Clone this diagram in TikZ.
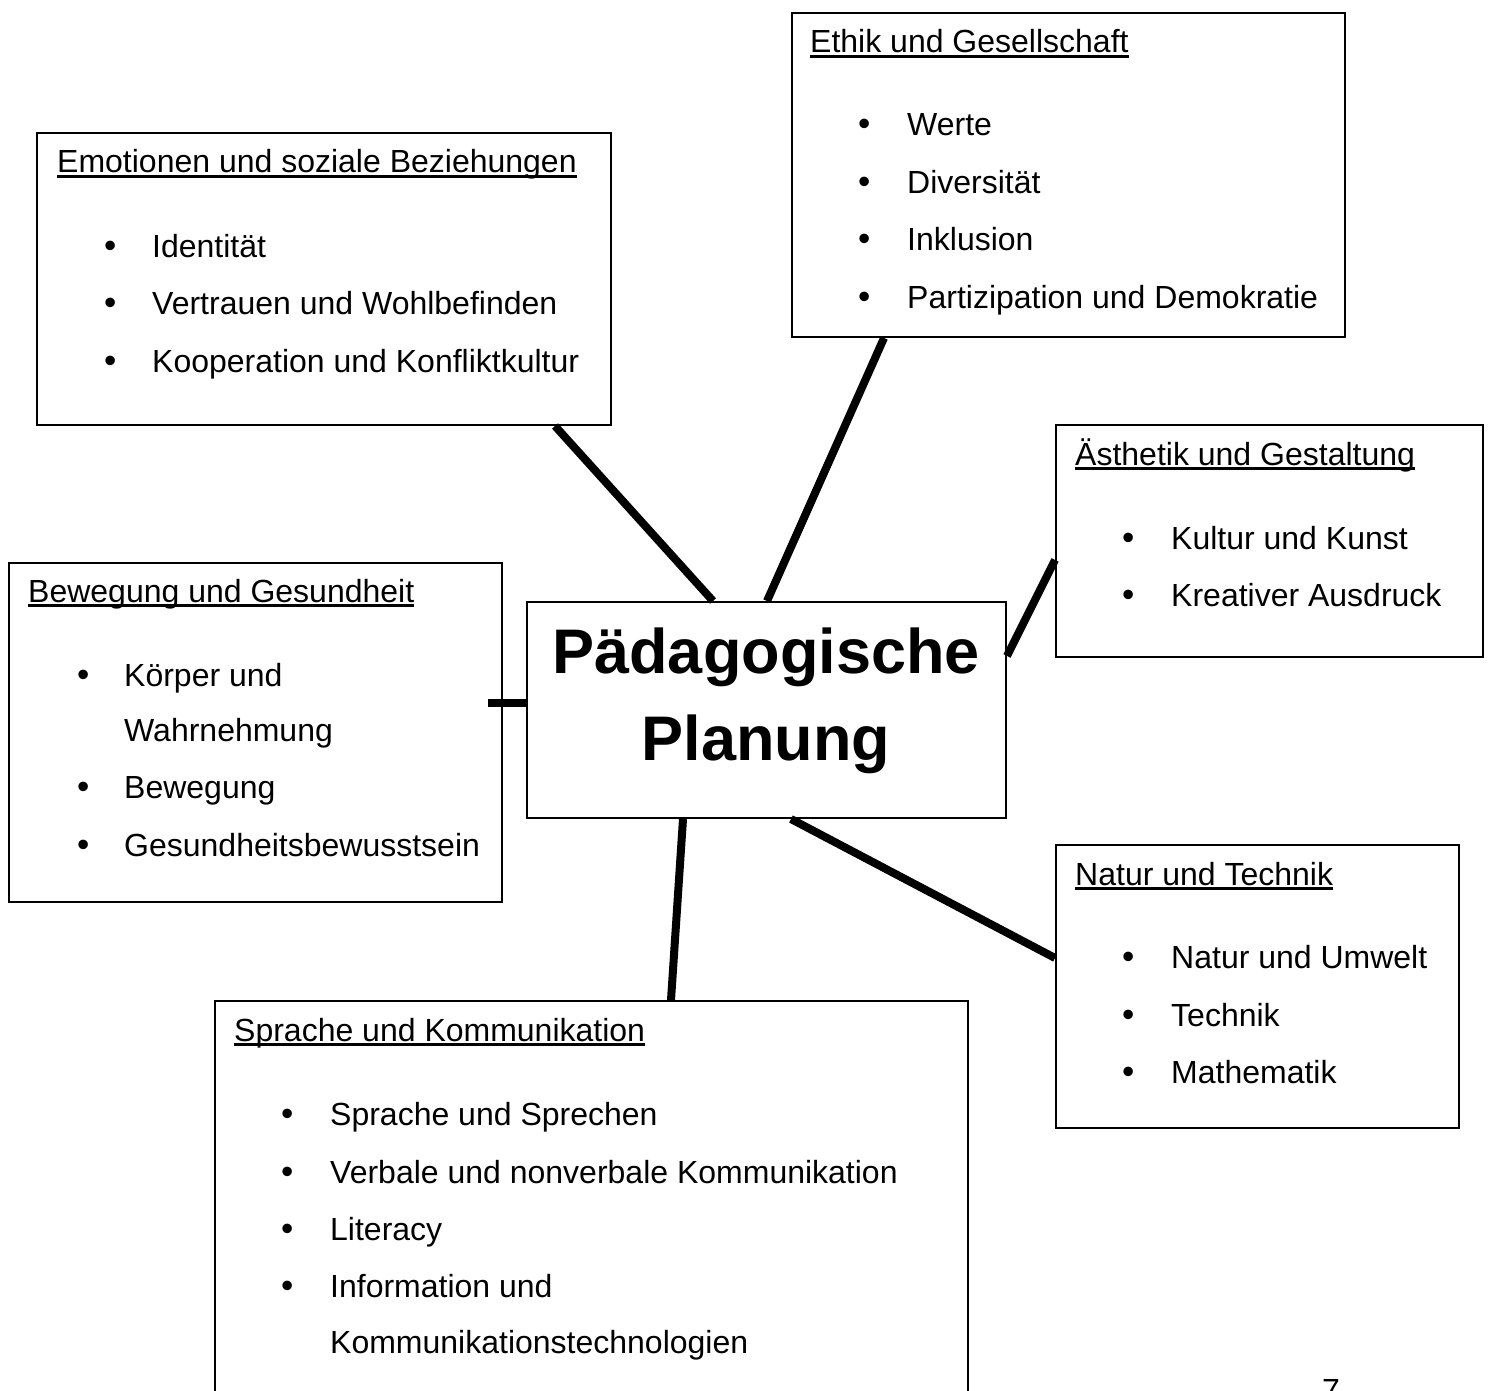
\documentclass[tikz,border=0pt]{standalone}
\usepackage{fontspec}
\setmainfont{Liberation Sans}
\newcommand\ulbox[1]{\setbox0\hbox{#1}\rlap{\vrule width \wd0 height -2pt depth 5pt}\box0}
\begin{document}
\begin{tikzpicture}[x=1pt,y=-1pt,
  box/.style={draw, line width=2pt, inner sep=0pt, anchor=north west},
  txt/.style={anchor=base west, inner sep=0pt, font=\fontsize{32}{38}\selectfont},
  bul/.style={anchor=base west, inner sep=0pt, font=\fontsize{35}{38}\selectfont},
  big/.style={anchor=base, inner sep=0pt, font=\fontsize{63}{75}\selectfont\bfseries},
  conn/.style={line width=8pt}]
\useasboundingbox (0,0) rectangle (1488,1391);
\clip (0,0) rectangle (1488,1391);
% boxes
\node[box, minimum width=574pt, minimum height=292pt] (emo) at (36,132) {};
\node[box, minimum width=553pt, minimum height=324pt] (eth) at (791,12) {};
\node[box, minimum width=427pt, minimum height=232pt] (aes) at (1055,424) {};
\node[box, minimum width=493pt, minimum height=339pt] (bew) at (8,562) {};
\node[box, minimum width=479pt, minimum height=216pt] (ctr) at (526,601) {};
\node[box, minimum width=403pt, minimum height=283pt] (nat) at (1055,844) {};
\node[box, minimum width=753pt, minimum height=420pt] (spr) at (214,1000) {};
% center text
\node[big] (ctr1) at (766,673) {Pädagogische};
\node[big] (ctr2) at (766,760) {Planung};
% Emotionen
\node[txt] (emoT) at (57,173) {\ulbox{Emotionen und soziale Beziehungen}};
\node[bul] (emoB1) at (104,257) {•}; \node[txt] (emo1) at (152,257) {Identität};
\node[bul] (emoB2) at (104,314) {•}; \node[txt] (emo2) at (152,314) {Vertrauen und Wohlbefinden};
\node[bul] (emoB3) at (104,372) {•}; \node[txt] (emo3) at (152,372) {Kooperation und Konfliktkultur};
% Ethik
\node[txt] (ethT) at (810,53) {\ulbox{Ethik und Gesellschaft}};
\node[bul] (ethB1) at (858,136) {•}; \node[txt] (eth1) at (907,136) {Werte};
\node[bul] (ethB2) at (858,194) {•}; \node[txt] (eth2) at (907,194) {Diversität};
\node[bul] (ethB3) at (858,251) {•}; \node[txt] (eth3) at (907,251) {Inklusion};
\node[bul] (ethB4) at (858,308) {•}; \node[txt] (eth4) at (907,308) {Partizipation und Demokratie};
% Aesthetik
\node[txt] (aesT) at (1075,465) {\ulbox{Ästhetik und Gestaltung}};
\node[bul] (aesB1) at (1122,549) {•}; \node[txt] (aes1) at (1171,549) {Kultur und Kunst};
\node[bul] (aesB2) at (1122,606) {•}; \node[txt] (aes2) at (1171,606) {Kreativer Ausdruck};
% Bewegung
\node[txt] (bewT) at (28,602) {\ulbox{Bewegung und Gesundheit}};
\node[bul] (bewB1) at (77,686) {•}; \node[txt] (bew1) at (124,686) {Körper und};
\node[txt] (bew1b) at (124,741) {Wahrnehmung};
\node[bul] (bewB2) at (77,798) {•}; \node[txt] (bew2) at (124,798) {Bewegung};
\node[bul] (bewB3) at (77,856) {•}; \node[txt] (bew3) at (124,856) {Gesundheitsbewusstsein};
% Natur
\node[txt] (natT) at (1075,885) {\ulbox{Natur und Technik}};
\node[bul] (natB1) at (1122,968) {•}; \node[txt] (nat1) at (1171,968) {Natur und Umwelt};
\node[bul] (natB2) at (1122,1026) {•}; \node[txt] (nat2) at (1171,1026) {Technik};
\node[bul] (natB3) at (1122,1083) {•}; \node[txt] (nat3) at (1171,1083) {Mathematik};
% Sprache
\node[txt] (sprT) at (234,1041) {\ulbox{Sprache und Kommunikation}};
\node[bul] (sprB1) at (281,1125) {•}; \node[txt] (spr1) at (330,1125) {Sprache und Sprechen};
\node[bul] (sprB2) at (281,1183) {•}; \node[txt] (spr2) at (330,1183) {Verbale und nonverbale Kommunikation};
\node[bul] (sprB3) at (281,1240) {•}; \node[txt] (spr3) at (330,1240) {Literacy};
\node[bul] (sprB4) at (281,1297) {•}; \node[txt] (spr4) at (330,1297) {Information und};
\node[txt] (spr4b) at (330,1353) {Kommunikationstechnologien};
% page number (cut off at the lower edge, as in the reference)
\node[txt] (pnum) at (1322,1401) {7};
% connectors
\draw[conn] ([xshift=519pt]emo.south west) -- ([xshift=187pt]ctr.north west);
\draw[conn] ([xshift=93pt]eth.south west) -- ([xshift=241pt]ctr.north west);
\draw[conn] ([yshift=-136pt]aes.north west) -- ([yshift=-55pt]ctr.north east);
\draw[conn] ([xshift=-38pt,yshift=-102pt]ctr.north west) -- ([yshift=-102pt]ctr.north west);
\draw[conn] ([xshift=157pt]ctr.south west) -- ([xshift=457pt]spr.north west);
\draw[conn] ([xshift=265pt]ctr.south west) -- ([yshift=-114pt]nat.north west);
\end{tikzpicture}
\end{document}
